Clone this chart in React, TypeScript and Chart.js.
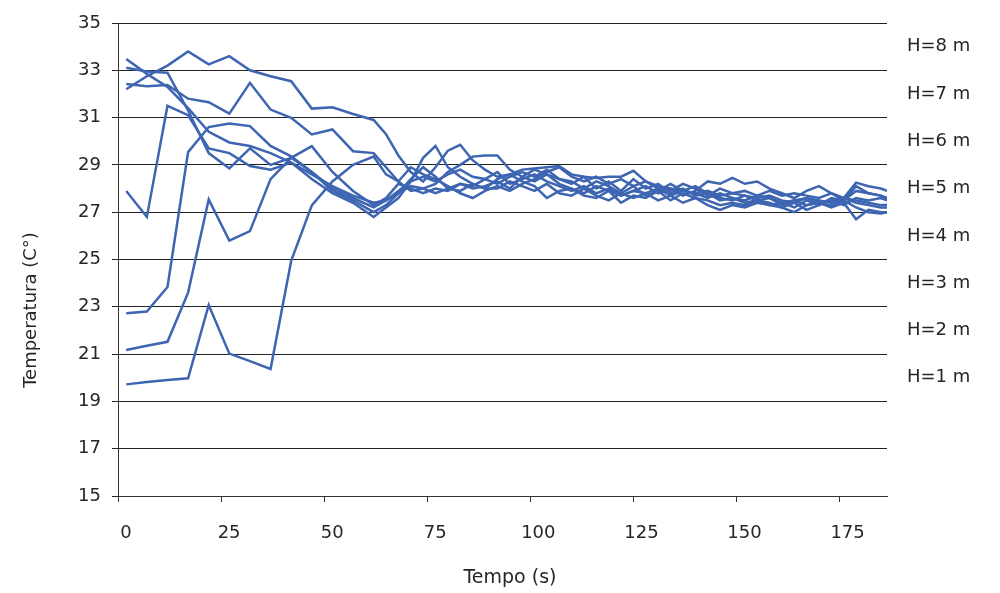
import { useEffect, useRef } from "react";
import { Chart, registerables } from "chart.js";

Chart.register(...registerables);

const TIMES = [2, 7, 12, 17, 22, 27, 32, 37, 42, 47, 52, 57, 62, 65, 68, 71, 74, 77, 80, 83, 86, 89, 92, 95, 98, 101, 104, 107, 110, 113, 116, 119, 122, 125, 128, 131, 134, 137, 140, 143, 146, 149, 152, 155, 158, 161, 164, 167, 170, 173, 176, 179, 182, 185, 186.5];

const H8 = [33.48, 32.85, 32.3, 31.4, 30.4, 29.95, 29.8, 29.5, 29.1, 28.6, 28.1, 27.7, 27.4,
  27.5, 27.9, 28.3, 28.5, 28.3, 28.6, 28.8, 28.5, 28.4, 28.7, 28.2, 28.4, 28.6, 28.3, 28.1, 27.9, 28.1, 27.8, 28.0, 27.7,
  27.9, 27.8, 28.0, 27.7, 27.9, 27.8, 27.6, 27.8, 27.6, 27.5, 27.7, 27.6, 27.4, 27.5, 27.3, 27.4, 27.5, 27.3, 27.6, 27.5, 27.6, 27.5];
const H7 = [33.11, 32.95, 32.9, 31.3, 29.5, 28.85, 29.7, 29.0, 29.3, 28.7, 27.9, 27.5, 27.0,
  27.3, 27.8, 28.4, 28.9, 28.5, 28.0, 27.9, 28.2, 28.0, 28.4, 28.6, 28.3, 28.1, 27.6, 27.9, 28.0, 27.7, 27.6, 27.9, 27.4,
  27.7, 27.6, 27.9, 27.5, 27.8, 27.6, 27.3, 27.1, 27.3, 27.2, 27.4, 27.3, 27.2, 27.0, 27.3, 27.4, 27.3, 27.5, 27.2, 27.0, 26.95, 27.0];
const H6 = [32.42, 32.33, 32.38, 31.8, 31.65, 31.17, 32.47, 31.34, 30.99, 30.29, 30.5, 29.58, 29.5,
  28.9, 28.3, 27.9, 28.0, 27.8, 28.0, 28.2, 28.0, 28.1, 28.3, 28.0, 28.5, 28.8, 28.6, 28.4, 28.2, 28.5, 28.0, 28.3, 27.9,
  28.4, 28.0, 28.2, 27.8, 28.0, 27.7, 27.8, 27.5, 27.6, 27.4, 27.5, 27.3, 27.4, 27.2, 27.5, 27.3, 27.6, 27.5, 28.1, 27.8, 27.7, 27.6];
const H5 = [32.2, 32.75, 33.2, 33.8, 33.25, 33.6, 33.0, 32.75, 32.54, 31.38, 31.44, 31.15, 30.9,
  30.3, 29.4, 28.7, 28.3, 28.9, 29.6, 29.85, 29.2, 28.8, 28.5, 28.6, 28.8, 28.85, 28.9, 28.95, 28.6, 28.5, 28.45, 28.5, 28.5,
  28.75, 28.3, 28.1, 28.0, 27.9, 27.8, 27.9, 27.7, 27.8, 27.7, 27.6, 27.7, 27.5, 27.4, 27.6, 27.5, 27.4, 27.6, 27.5, 27.4, 27.3, 27.3];
const H4 = [27.9, 26.8, 31.5, 31.1, 29.7, 29.5, 28.95, 28.8, 29.1, 28.4, 27.8, 27.4, 26.8,
  27.2, 27.6, 28.3, 29.3, 29.8, 28.9, 28.5, 28.2, 28.0, 28.0, 28.3, 28.1, 27.9, 28.2, 27.8, 27.7, 28.0, 27.7, 27.5, 27.8,
  27.6, 27.8, 27.5, 27.7, 27.4, 27.6, 27.5, 27.3, 27.4, 27.3, 27.5, 27.4, 27.2, 27.4, 27.1, 27.3, 27.5, 27.6, 27.4, 27.3, 27.2, 27.2];
const H3 = [22.73, 22.8, 23.84, 29.54, 30.6, 30.75, 30.64, 29.8, 29.36, 28.7, 28.0, 27.6, 27.2,
  27.5, 27.8, 28.1, 28.0, 28.2, 28.7, 29.0, 29.35, 29.4, 29.4, 28.8, 28.5, 28.3, 28.6, 28.2, 28.0, 27.8, 28.1, 27.9, 27.7,
  27.9, 28.1, 27.8, 28.0, 27.7, 27.9, 28.3, 28.2, 28.45, 28.2, 28.3, 28.0, 27.8, 27.6, 27.9, 28.1, 27.8, 27.6, 28.25, 28.1, 28.0, 27.9];
const H2 = [21.17, 21.35, 21.52, 23.6, 27.54, 25.8, 26.2, 28.4, 29.3, 29.79, 28.7, 27.9, 27.3,
  27.6, 28.2, 28.0, 27.8, 28.0, 27.9, 28.2, 28.1, 28.4, 28.2, 28.5, 28.7, 28.5, 28.8, 28.4, 28.3, 28.0, 28.3, 28.1, 27.8,
  28.1, 27.7, 27.9, 28.2, 27.9, 28.1, 27.8, 27.6, 27.5, 27.7, 27.5, 27.6, 27.3, 27.5, 27.6, 27.4, 27.2, 27.4, 26.7, 27.1, 27.0, 27.0];
const H1 = [19.72, 19.82, 19.9, 19.98, 23.08, 21.02, 20.7, 20.37, 24.94, 27.29, 28.3, 29.0, 29.35,
  28.6, 28.3, 28.9, 28.6, 28.4, 28.1, 27.8, 27.6, 27.9, 28.1, 27.9, 28.2, 28.4, 28.7, 28.9, 28.5, 28.3, 28.5, 28.2, 28.4,
  28.1, 28.3, 28.0, 27.9, 28.2, 28.0, 27.7, 28.0, 27.8, 27.9, 27.7, 27.9, 27.7, 27.8, 27.7, 27.6, 27.8, 27.5, 27.9, 27.8, 27.7, 27.6];

const SERIES = [H8, H7, H6, H5, H4, H3, H2, H1];
const SERIES_LABELS = ["H=8 m", "H=7 m", "H=6 m", "H=5 m", "H=4 m", "H=3 m", "H=2 m", "H=1 m"];
const LABEL_LEVELS = [34, 32, 30, 28, 26, 24, 22, 20];
const X_TICKS = [0, 25, 50, 75, 100, 125, 150, 175];
const Y_TICKS = [15, 17, 19, 21, 23, 25, 27, 29, 31, 33, 35];
const X_TITLE = "Tempo (s)";
const Y_TITLE = "Temperatura (C°)";

const FONT = "'DejaVu Sans', sans-serif";
const TEXT = "#262626";
const LINE = "#3D65B1";

export default function App() {
  const ref = useRef<HTMLCanvasElement | null>(null);
  useEffect(() => {
    if (!ref.current) return;
    const textPlugin = {
      id: "texts",
      afterDraw(chart: any) {
        const ctx = chart.ctx;
        const ys = chart.scales.y;
        const area = chart.chartArea;
        ctx.save();
        ctx.fillStyle = TEXT;
        ctx.font = `18px ${FONT}`;
        ctx.textAlign = "left";
        ctx.textBaseline = "middle";
        SERIES_LABELS.forEach((l, i) => {
          ctx.fillText(l, area.right + 20, ys.getPixelForValue(LABEL_LEVELS[i]));
        });
        ctx.textAlign = "center";
        ctx.font = `19px ${FONT}`;
        ctx.fillText(X_TITLE, 510, 578);
        ctx.font = `18px ${FONT}`;
        ctx.translate(31, 310);
        ctx.rotate(-Math.PI / 2);
        ctx.fillText(Y_TITLE, 0, 0);
        ctx.restore();
      },
    };
    const chart = new Chart(ref.current, {
      type: "scatter",
      data: {
        datasets: SERIES.map((s, i) => ({
          label: SERIES_LABELS[i],
          data: s.map((v, j) => ({ x: TIMES[j], y: v })),
          showLine: true,
          borderColor: LINE,
          backgroundColor: LINE,
          borderWidth: 2.5,
          pointRadius: 0,
          tension: 0,
        })),
      },
      options: {
        responsive: false,
        animation: false,
        layout: { padding: { left: 0, right: 113, top: 23, bottom: 0 } },
        plugins: { legend: { display: false }, tooltip: { enabled: false } },
        scales: {
          x: {
            type: "linear",
            min: 0,
            max: 186.5,
            afterBuildTicks: (s: any) => {
              s.ticks = X_TICKS.map((v) => ({ value: v }));
            },
            afterFit: (s: any) => {
              s.height = 97;
            },
            grid: { drawOnChartArea: false, drawTicks: true, tickLength: 6, color: "#333" },
            border: { display: true, color: "#333", width: 1 },
            ticks: { labelOffset: 8, padding: 21, color: TEXT, font: { family: FONT, size: 18 } },
          },
          y: {
            min: 15,
            max: 35,
            afterBuildTicks: (s: any) => {
              s.ticks = Y_TICKS.map((v) => ({ value: v }));
            },
            afterFit: (s: any) => {
              s.width = 118;
            },
            grid: { color: "#222", lineWidth: 1, tickLength: 6 },
            border: { display: true, color: "#333", width: 1 },
            ticks: { padding: 11, color: TEXT, font: { family: FONT, size: 18 } },
          },
        },
      },
      plugins: [textPlugin],
    });
    return () => chart.destroy();
  }, []);
  return (
    <div style={{ position: "absolute", left: 0, top: 0, width: 1000, height: 593, background: "#fff" }}>
      <canvas ref={ref} width={1000} height={593} style={{ display: "block" }} />
    </div>
  );
}
